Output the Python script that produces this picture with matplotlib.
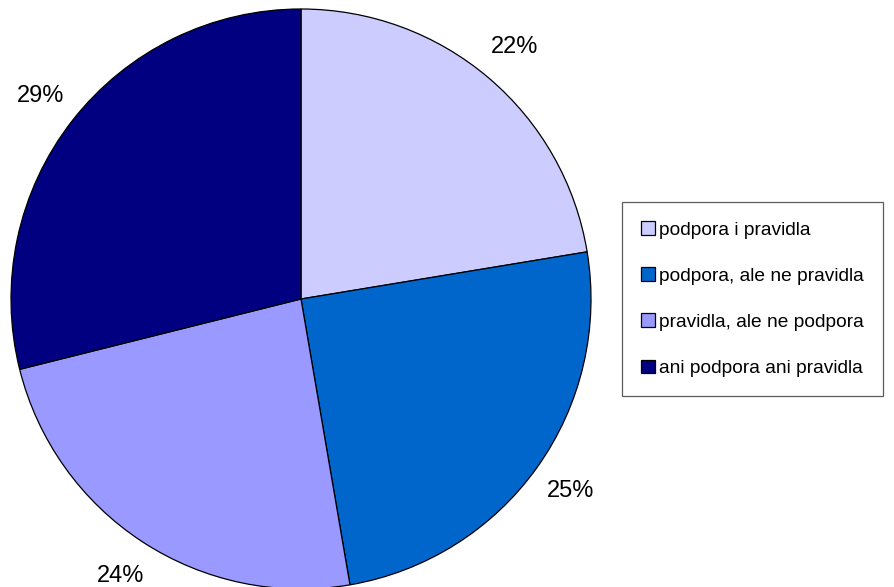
import matplotlib
matplotlib.use('Agg')
import matplotlib.pyplot as plt

plt.rcParams['font.family'] = ['Liberation Sans', 'DejaVu Sans']

labels = ['podpora i pravidla', 'podpora, ale ne pravidla',
          'pravidla, ale ne podpora', 'ani podpora ani pravidla']
values = [22.4, 24.9, 23.8, 28.9]
colors = ['#CCCCFF', '#0066CC', '#9999FF', '#000080']

W, H = 895, 587
fig = plt.figure(figsize=(W / 100, H / 100), dpi=100)

# pie centre (301, 299) px, radius 290 px
cx, cy, r = 301, 299, 290
ax = fig.add_axes([(cx - r) / W, (H - cy - r) / H, 2 * r / W, 2 * r / H])
wedges, texts, autotexts = ax.pie(
    values, colors=colors, startangle=90, counterclock=False,
    autopct='%.0f%%', pctdistance=1.14, radius=1,
    wedgeprops=dict(edgecolor='black', linewidth=0.9))
for t in autotexts:
    t.set_fontsize(17)
ax.set_xlim(-1, 1)
ax.set_ylim(-1, 1)
ax.set_aspect('equal')

leg = fig.legend(wedges, labels, loc='upper left',
                 bbox_to_anchor=(622 / W, 1 - 202 / H),
                 fontsize=13.8, frameon=True, fancybox=False,
                 edgecolor='#333333', handlelength=0.7, handleheight=0.7,
                 handletextpad=0.25, labelspacing=1.5, borderpad=1.0,
                 borderaxespad=0)
leg.get_frame().set_linewidth(0.9)

fig.savefig('out.png', dpi=100)
